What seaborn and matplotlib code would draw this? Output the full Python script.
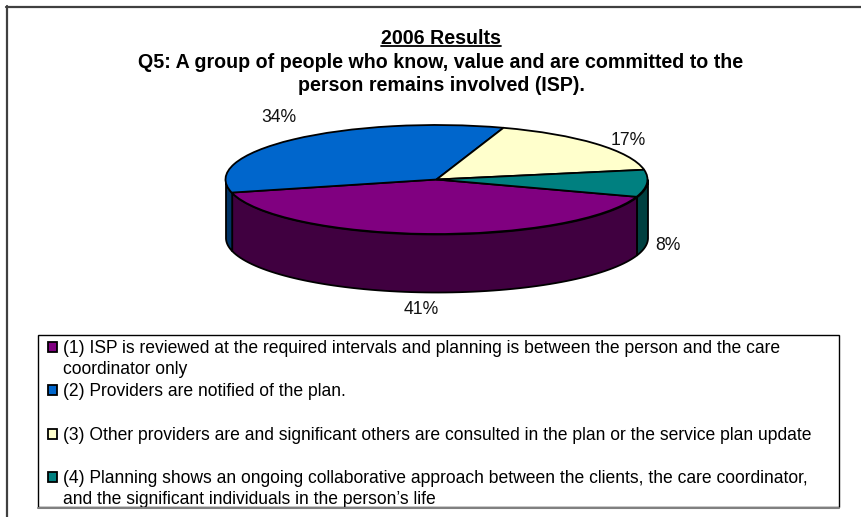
import matplotlib
matplotlib.use("Agg")
import matplotlib.patches as mpatches
import matplotlib.pyplot as plt
import numpy as np
import seaborn as sns
from matplotlib.legend_handler import HandlerPatch

# values
percent = [41, 34, 17, 8]
top_colors = ["#800080", "#0066CC", "#FFFFCC", "#008080"]
side_colors = ["#400040", "#003366", "#666652", "#004040"]
legend_labels = [
    "(1) ISP is reviewed at the required intervals and planning is between the person and the care\ncoordinator only",
    "(2) Providers are notified of the plan.\n ",
    "(3) Other providers are and significant others are consulted in the plan or the service plan update\n ",
    "(4) Planning shows an ongoing collaborative approach between the clients, the care coordinator,\nand the significant individuals in the person\u2019s life",
]
title_lines = [
    "2006 Results",
    "Q5: A group of people who know, value and are committed to the",
    "person remains involved (ISP).",
]
pct_labels = ["41%", "34%", "17%", "8%"]

W, H = 861, 517
# pie geometry in pixels
cx, cy, rx, ry, depth = 436.5, 179.5, 211, 54.5, 58
start = -18.5
pct_xy = [(421, 310), (279, 117), (628, 140.5), (667.5, 245)]

sns.set_theme(style="white")
plt.rcParams["font.family"] = ["Liberation Sans", "DejaVu Sans"]

fig = plt.figure(figsize=(W / 100, H / 100), dpi=100, facecolor="white")
ax = fig.add_axes([0, 0, 1, 1])

palette = sns.color_palette(top_colors)
wedges, _ = ax.pie(percent, colors=palette, startangle=start, counterclock=False,
                   wedgeprops={"edgecolor": "black", "linewidth": 1.3, "zorder": 3})

# the pie is squashed by letting the axes be stretched
ax.set_aspect("auto")
ax.set_xlim(-cx / rx, (W - cx) / rx)
ax.set_ylim(-(H - cy) / ry, cy / ry)

# side walls, only the front half of the rim shows
ends = start - np.cumsum(percent) * 3.6
begins = np.r_[start, ends[:-1]]
for a0, a1, col in zip(begins, ends, side_colors):
    hi = np.mod(a0, 360)
    lo = hi - (a0 - a1)
    for shift in (0, 360):
        t0, t1 = max(lo + shift, 180), min(hi + shift, 360)
        if t1 <= t0:
            continue
        t = np.radians(np.linspace(t0, t1, 80))
        ax.fill_between(np.cos(t), np.sin(t), np.sin(t) - depth / ry, facecolor=col,
                        edgecolor="black", linewidth=1.3, zorder=2)


def to_fig(x, y):
    return x / W, 1 - y / H


for lab, (x, y) in zip(pct_labels, pct_xy):
    fig.text(*to_fig(x, y), lab, fontsize=12.7, color="#111111", ha="center", va="center")

# title
title_y = [38, 62, 86]
for line, y in zip(title_lines, title_y):
    fig.text(*to_fig(441, y), line, fontsize=14.1, fontweight="bold", color="black",
             ha="center", va="center")
ul = fig.text(*to_fig(441, 38), title_lines[0], fontsize=14.1, fontweight="bold", alpha=0,
              ha="center", va="center")
fig.canvas.draw()
box = ul.get_window_extent()
fig.add_artist(plt.Line2D([box.x0 / W, box.x1 / W], [1 - 46 / H] * 2, color="black", lw=1.3))


def first_line_box(legend, orig_handle, xdescent, ydescent, width, height, fontsize):
    return mpatches.Rectangle((3.6, 9.7), width, height)


# legend, each entry takes two text lines. its own frame comes out too tall so it is drawn below
handles = [mpatches.Patch(facecolor=c, edgecolor="black", linewidth=1.3) for c in top_colors]
leg = ax.legend(handles, legend_labels, loc="upper left", mode="expand",
                bbox_to_anchor=(38 / W, 1 - 507 / H, 801 / W, 172 / H), bbox_transform=fig.transFigure,
                fontsize=12.65, frameon=False,
                borderpad=0.28, borderaxespad=0, labelspacing=0.3, handlelength=0.5, handleheight=0.5,
                handletextpad=0.64, labelcolor="black",
                handler_map={mpatches.Patch: HandlerPatch(patch_func=first_line_box)})
for txt in leg.get_texts():
    txt.set_linespacing(1.31)
fig.add_artist(mpatches.Rectangle((38 / W, 1 - 507 / H), 801 / W, 172 / H, transform=fig.transFigure,
                                  facecolor="none", edgecolor="black", linewidth=1.0))

# outer frame of the source slide, top and left only
fig.add_artist(plt.Line2D([7 / W, 7 / W], [0, 1 - 6 / H], color="#404040", lw=1.6))
fig.add_artist(plt.Line2D([6 / W, 1], [1 - 6.5 / H] * 2, color="#404040", lw=1.6))
# heavier grey line along the legend's lower edge
fig.add_artist(plt.Line2D([38 / W, 839 / W], [1 - 507.5 / H] * 2, color="#808080", lw=1.5))

fig.savefig("out.png", dpi=100)
